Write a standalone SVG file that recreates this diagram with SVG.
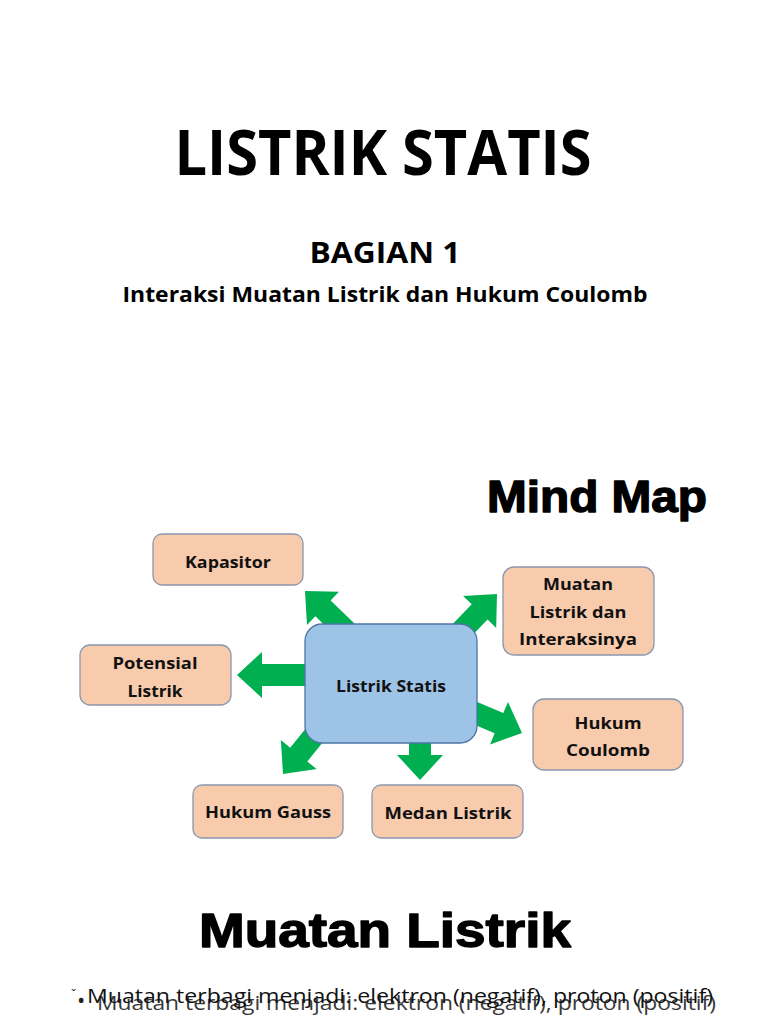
<svg xmlns="http://www.w3.org/2000/svg" xmlns:xlink="http://www.w3.org/1999/xlink" width="768" height="1024" viewBox="0 0 768 1024">
<style>
.t{font-family:"Open Sans","Noto Sans","Liberation Sans",sans-serif;font-weight:bold;fill:#000;text-anchor:middle}
.h{font-family:"Liberation Sans","Arial",sans-serif;font-weight:900;fill:#000;stroke:#000;stroke-width:1.4;stroke-linejoin:round;text-anchor:middle}
.lbl{font-family:"Open Sans","Noto Sans","Liberation Sans",sans-serif;font-weight:bold;font-size:16.5px;fill:#111;text-anchor:middle}
.leaf{fill:#F8CBAD;stroke:#8A97AD;stroke-width:1.3}
.core{fill:#9DC3E6;stroke:#4E74A6;stroke-width:1.3}
.arr{fill:#00B050}
.body{font-family:"Open Sans","Noto Sans","Liberation Sans",sans-serif;font-size:20px}
</style>
<defs>
<path id="arrow" d="M0,0 L-25,-23 L-25,-11 L-95,-11 L-95,11 L-25,11 L-25,23 Z"/>
</defs>
<rect width="768" height="1024" fill="#fff"/>

<text class="t" x="383" y="175" font-size="63" textLength="417" lengthAdjust="spacingAndGlyphs">LISTRIK STATIS</text>
<text class="t" x="385" y="263" font-size="28" textLength="151" lengthAdjust="spacingAndGlyphs">BAGIAN 1</text>
<text class="t" x="385" y="302" font-size="21" textLength="525" lengthAdjust="spacingAndGlyphs">Interaksi Muatan Listrik dan Hukum Coulomb</text>
<text class="h" x="597" y="512" font-size="44" textLength="220" lengthAdjust="spacingAndGlyphs">Mind Map</text>

<g id="connectors" class="arr">
<use xlink:href="#arrow" transform="translate(237,675) rotate(180)"/>
<use xlink:href="#arrow" transform="translate(305,591) rotate(-136)"/>
<use xlink:href="#arrow" transform="translate(497,594) rotate(-46)"/>
<use xlink:href="#arrow" transform="translate(522,733) rotate(23)"/>
<use xlink:href="#arrow" transform="translate(420,780) rotate(90)"/>
<use xlink:href="#arrow" transform="translate(283,774) rotate(129)"/>
</g>

<g id="node-kapasitor">
<rect class="leaf" x="153" y="534" width="150" height="51" rx="9"/>
<text class="lbl" x="228" y="568" textLength="86" lengthAdjust="spacingAndGlyphs">Kapasitor</text>
</g>
<g id="node-muatan">
<rect class="leaf" x="503" y="567" width="151" height="88" rx="11"/>
<text class="lbl" x="578" y="590" textLength="70" lengthAdjust="spacingAndGlyphs">Muatan</text>
<text class="lbl" x="578" y="618" textLength="97" lengthAdjust="spacingAndGlyphs">Listrik dan</text>
<text class="lbl" x="578" y="645" textLength="118" lengthAdjust="spacingAndGlyphs">Interaksinya</text>
</g>
<g id="node-potensial">
<rect class="leaf" x="80" y="645" width="151" height="60" rx="10"/>
<text class="lbl" x="155" y="669" textLength="85" lengthAdjust="spacingAndGlyphs">Potensial</text>
<text class="lbl" x="155" y="697" textLength="55" lengthAdjust="spacingAndGlyphs">Listrik</text>
</g>
<g id="node-listrik-statis">
<rect class="core" x="305" y="624" width="172" height="119" rx="17"/>
<text class="lbl" x="391" y="692" textLength="110" lengthAdjust="spacingAndGlyphs">Listrik Statis</text>
</g>
<g id="node-coulomb">
<rect class="leaf" x="533" y="699" width="150" height="71" rx="11"/>
<text class="lbl" x="608" y="729" textLength="67" lengthAdjust="spacingAndGlyphs">Hukum</text>
<text class="lbl" x="608" y="756" textLength="84" lengthAdjust="spacingAndGlyphs">Coulomb</text>
</g>
<g id="node-gauss">
<rect class="leaf" x="193" y="785" width="150" height="53" rx="9"/>
<text class="lbl" x="268" y="818" textLength="126" lengthAdjust="spacingAndGlyphs">Hukum Gauss</text>
</g>
<g id="node-medan">
<rect class="leaf" x="372" y="785" width="151" height="53" rx="9"/>
<text class="lbl" x="448" y="819" textLength="127" lengthAdjust="spacingAndGlyphs">Medan Listrik</text>
</g>

<text class="h" x="385" y="947" font-size="48" textLength="372" lengthAdjust="spacingAndGlyphs">Muatan Listrik</text>

<text x="71" y="999" font-family="Open Sans, sans-serif" font-size="13" fill="#222">ˇ</text>
<text x="77" y="1008" font-family="Open Sans, sans-serif" font-size="22" fill="#222">•</text>
<text class="body" x="97" y="1010" fill="#3a3a3a" textLength="619" lengthAdjust="spacingAndGlyphs">Muatan terbagi menjadi: elektron (negatif), proton (positif)</text>
<text class="body" x="87" y="1003" fill="#111" textLength="626" lengthAdjust="spacingAndGlyphs">Muatan terbagi menjadi: elektron (negatif), proton (positif)</text>
</svg>
